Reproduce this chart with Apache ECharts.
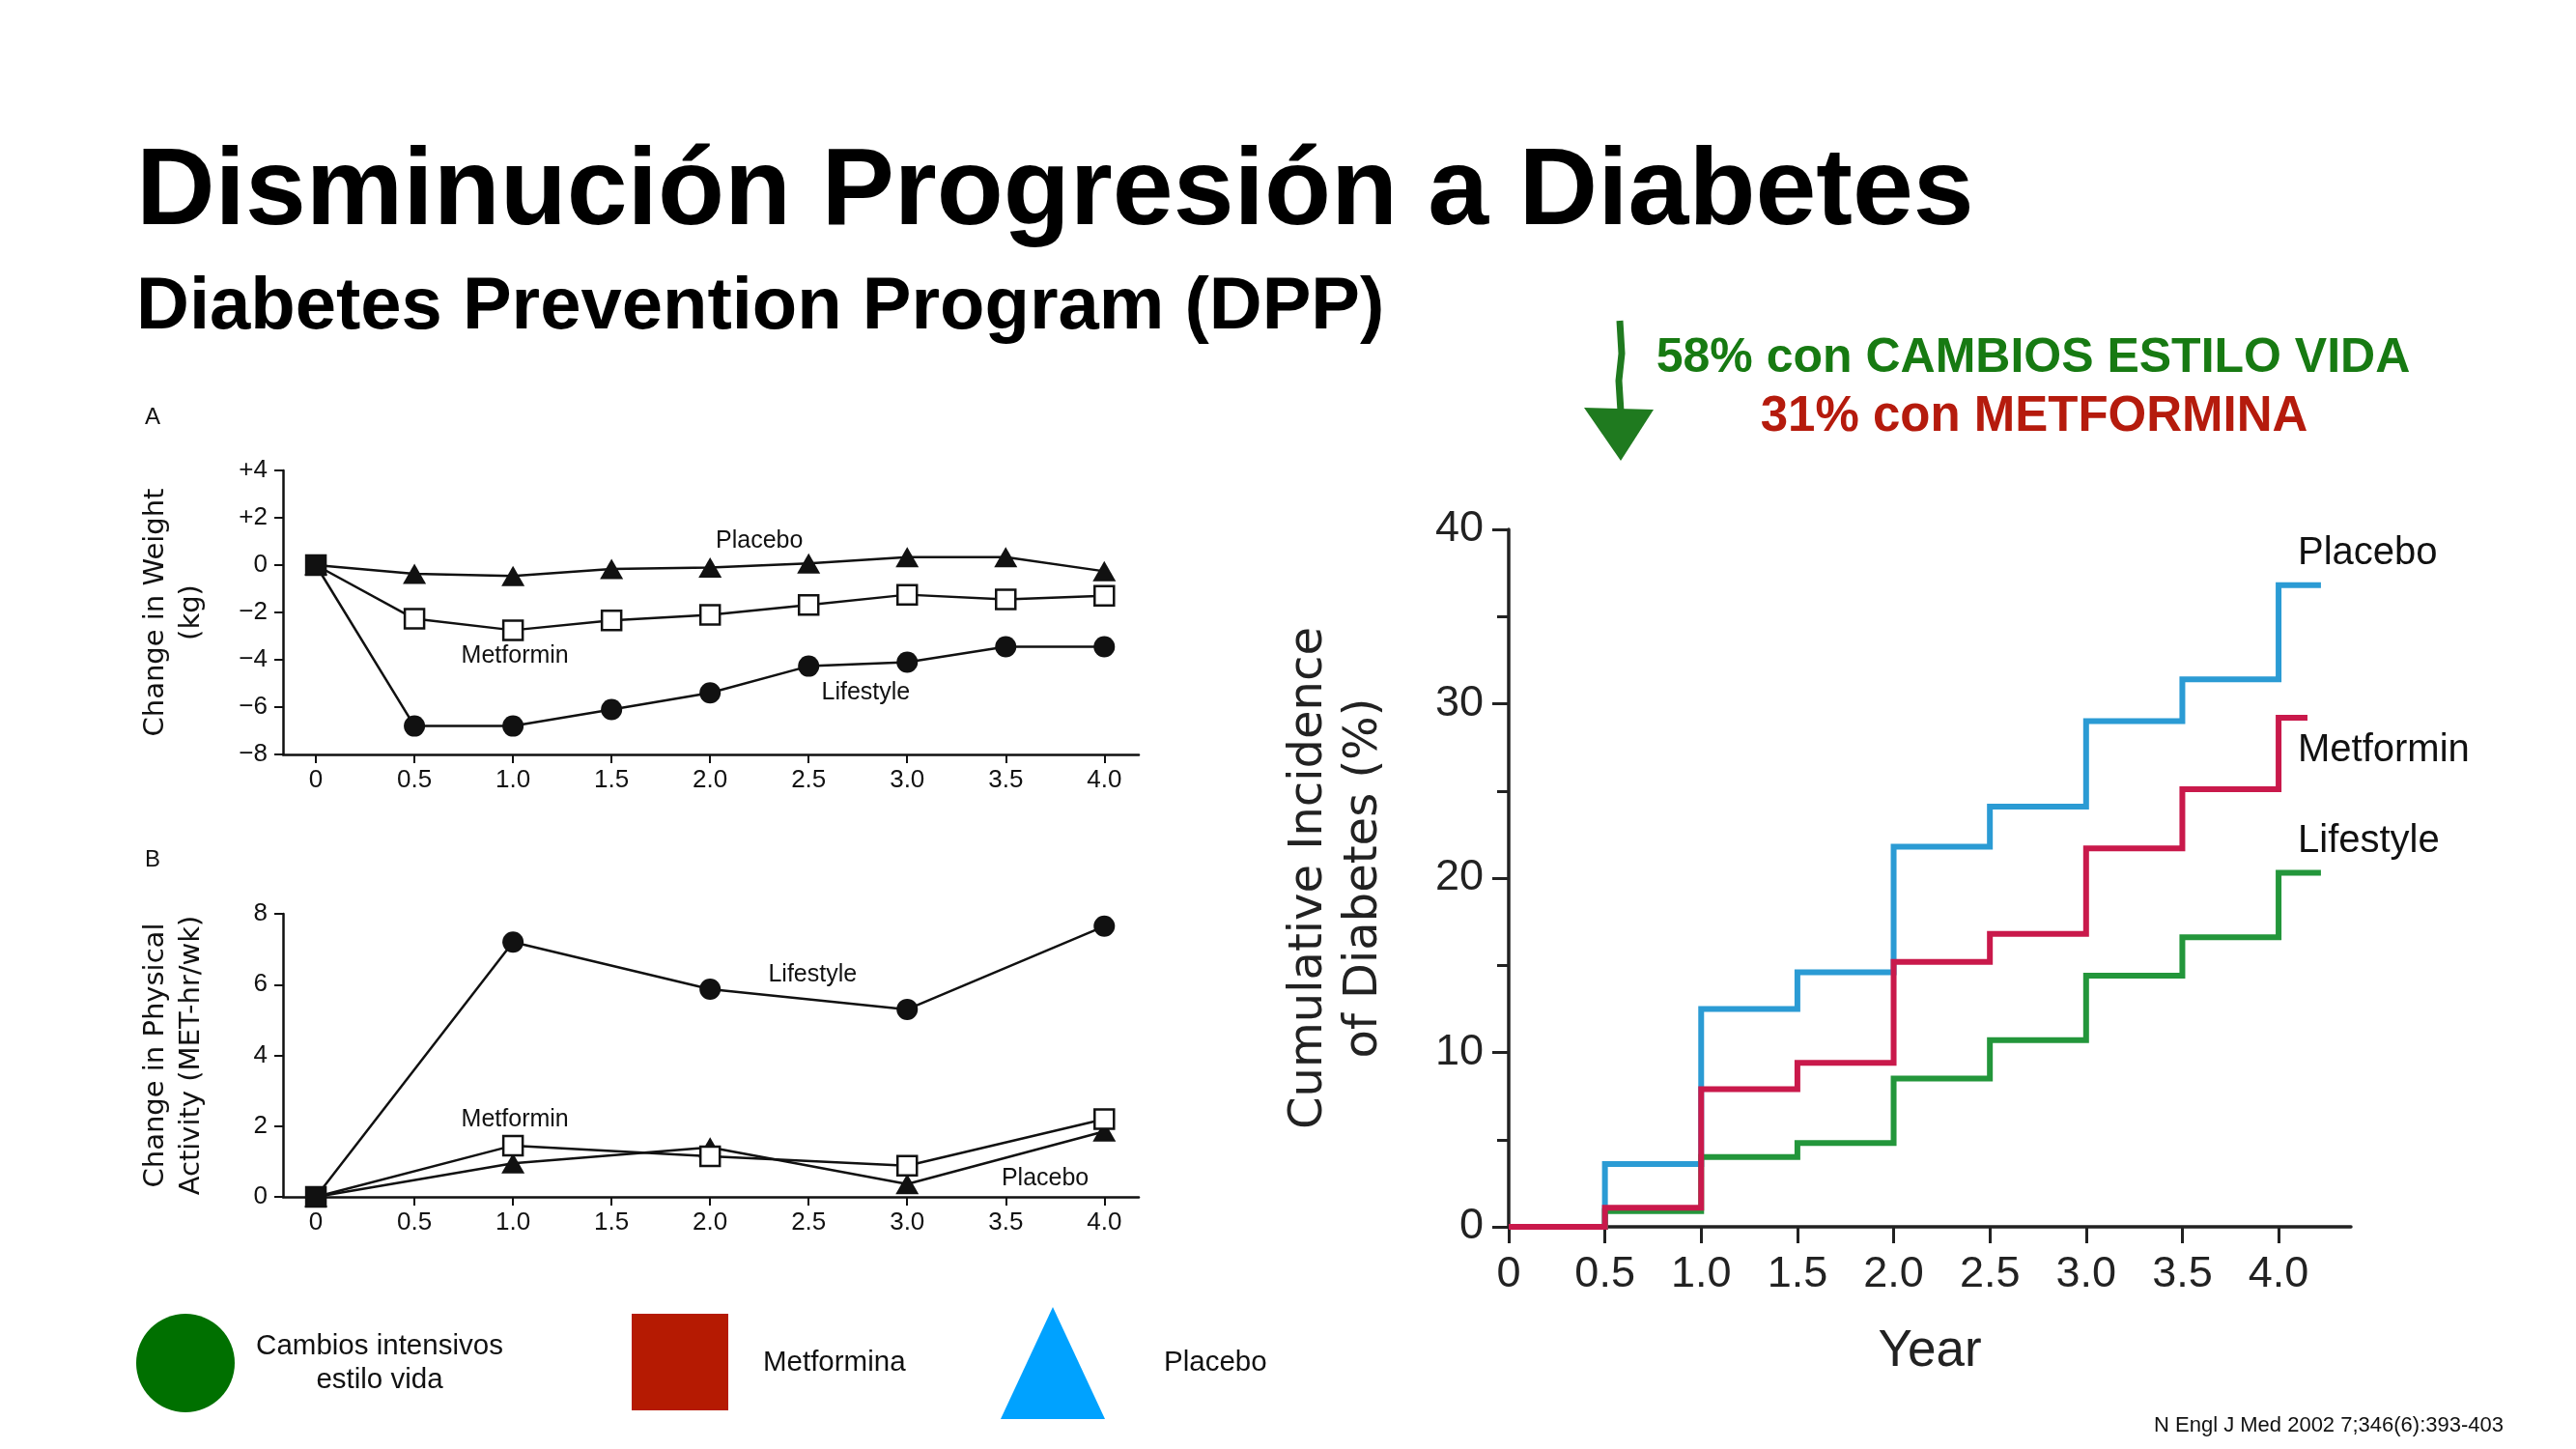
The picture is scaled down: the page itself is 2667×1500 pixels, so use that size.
<!DOCTYPE html>
<html>
<head>
<meta charset="utf-8">
<script src="https://cdn.jsdelivr.net/npm/echarts@6/dist/echarts.min.js"></script>
<style>
html,body{margin:0;padding:0;background:#fff;}
#c{width:2667px;height:1500px;}
</style>
</head>
<body>
<div id="c"></div>
<script>
// ---- Panel A: change in weight (kg)
const yearsA = [0, 0.5, 1.0, 1.5, 2.0, 2.5, 3.0, 3.5, 4.0];
const weightLifestyle = [0, -6.8, -6.8, -6.1, -5.4, -4.27, -4.1, -3.45, -3.45];
const weightMetformin = [0, -2.27, -2.75, -2.34, -2.1, -1.68, -1.25, -1.45, -1.3];
const weightPlacebo = [0, -0.37, -0.46, -0.16, -0.1, 0.07, 0.34, 0.34, -0.26];
const weightTicks = [-8, -6, -4, -2, 0, 2, 4];

// ---- Panel B: change in physical activity (MET-hr/wk)
const yearsB = [0, 1, 2, 3, 4];
const actLifestyle = [0, 7.2, 5.87, 5.3, 7.65];
const actMetformin = [0, 1.45, 1.15, 0.88, 2.2];
const actPlacebo = [0, 0.95, 1.4, 0.36, 1.85];
const activityTicks = [0, 2, 4, 6, 8];

const yearTicksLeft = [0, 0.5, 1.0, 1.5, 2.0, 2.5, 3.0, 3.5, 4.0];

// ---- Right panel: cumulative incidence of diabetes (%)
const stepYears = [0, 0.5, 1.0, 1.5, 2.0, 2.5, 3.0, 3.5, 4.0];
const incPlacebo = [0, 3.6, 12.5, 14.6, 21.8, 24.1, 29.0, 31.4, 36.8];
const incMetformin = [0, 1.1, 7.9, 9.4, 15.2, 16.8, 21.7, 25.1, 29.2];
const incLifestyle = [0, 0.9, 4.0, 4.8, 8.5, 10.7, 14.4, 16.6, 20.3];
const endYear = { Placebo: 4.22, Metformin: 4.15, Lifestyle: 4.22 };
const yearTicksRight = [0, 0.5, 1.0, 1.5, 2.0, 2.5, 3.0, 3.5, 4.0];

// ---- In-plot series annotations (data coordinates)
const notesA = [['Placebo', 2.25, 1.03], ['Metformin', 1.01, -3.86], ['Lifestyle', 2.79, -5.38]];
const notesB = [['Lifestyle', 2.52, 6.28], ['Metformin', 1.01, 2.19], ['Placebo', 3.7, 0.51]];
const notesR = [['Placebo', 4.1, 38.6], ['Metformin', 4.1, 27.3], ['Lifestyle', 4.1, 22.1]];

const FONT = '"Liberation Sans", Arial, Helvetica, sans-serif';
const WIDE = '"DejaVu Sans", Verdana, sans-serif';

function pairs(xs, ys) { return xs.map((x, i) => [x, ys[i]]); }
function stepData(ys, end) { const d = pairs(stepYears, ys); d.push([end, ys[ys.length - 1]]); return d; }
function fmtYear(v) { return v === 0 ? '0' : v.toFixed(1); }
function fmtSigned(v) { return v > 0 ? '+' + v : (v < 0 ? '\u2212' + Math.abs(v) : '0'); }

function noteMark(notes, pos, size) {
  return {
    silent: true,
    symbol: 'circle', symbolSize: 0,
    label: { show: true, position: pos, distance: 0, color: '#111', fontFamily: FONT, fontSize: size,
      formatter: p => p.name },
    data: notes.map(n => ({ name: n[0], coord: [n[1], n[2]] }))
  };
}

const leftAxisLine = { show: true, onZero: false, lineStyle: { color: '#111', width: 2.5 } };
const leftTick = { show: true, length: 9, lineStyle: { color: '#111', width: 2 } };
const leftLabel = { color: '#111', fontFamily: FONT, fontSize: 26 };

function leftX(gridIndex) {
  return {
    type: 'value', gridIndex, min: -0.167, max: 4.175,
    axisLine: leftAxisLine, splitLine: { show: false },
    axisTick: Object.assign({ customValues: yearTicksLeft }, leftTick),
    axisLabel: Object.assign({ customValues: yearTicksLeft, margin: 14, formatter: fmtYear }, leftLabel)
  };
}
function leftY(gridIndex, min, max, ticks, name, fmt) {
  return {
    type: 'value', gridIndex, min, max,
    name, nameLocation: 'middle', nameRotate: 90, nameGap: 76, nameMoveOverlap: false,
    nameTextStyle: { color: '#111', fontFamily: WIDE, fontSize: 29, lineHeight: 37 },
    axisLine: leftAxisLine, splitLine: { show: false },
    axisTick: Object.assign({ customValues: ticks }, leftTick),
    axisLabel: Object.assign({ customValues: ticks, margin: 16, formatter: fmt }, leftLabel)
  };
}

function blackSeries(name, xi, yi, xs, ys, symbol, size, filled, notes) {
  const data = pairs(xs, ys).map((p, i) =>
    (!filled && i === 0) ? { value: p, itemStyle: { color: '#111' } } : p);
  const s = {
    name, type: 'line', xAxisIndex: xi, yAxisIndex: yi,
    data, symbol, symbolSize: size, showSymbol: true,
    lineStyle: { color: '#111', width: 2.5 },
    itemStyle: filled ? { color: '#111', borderColor: '#111', borderWidth: 0 }
                      : { color: '#fff', borderColor: '#111', borderWidth: 2.5 },
    z: filled ? 3 : 4, animation: false
  };
  if (notes) s.markPoint = noteMark(notes, 'inside', 25);
  return s;
}

function stepSeries(name, ys, color, z) {
  const note = notesR.filter(n => n[0] === name);
  return {
    name, type: 'line', xAxisIndex: 2, yAxisIndex: 2, step: 'end',
    data: stepData(ys, endYear[name]), showSymbol: false, symbol: 'none',
    lineStyle: { color, width: 6, cap: 'butt', join: 'miter' }, z, animation: false,
    markPoint: noteMark(note, 'right', 40)
  };
}

const chart = echarts.init(document.getElementById('c'), null, { renderer: 'canvas' });

const option = {
  backgroundColor: '#fff',
  animation: false,
  grid: [
    { left: 293, top: 487, width: 886, height: 294 },
    { left: 293, top: 946, width: 886, height: 293 },
    { left: 1562, top: 548, width: 872, height: 722 }
  ],
  xAxis: [
    leftX(0),
    leftX(1),
    {
      type: 'value', gridIndex: 2, min: 0, max: 4.376,
      name: 'Year', nameLocation: 'middle', nameGap: 103, nameMoveOverlap: false,
      nameTextStyle: { color: '#222', fontFamily: FONT, fontSize: 53 },
      axisLine: { show: true, onZero: false, lineStyle: { color: '#222', width: 3.5 } },
      splitLine: { show: false },
      axisTick: { show: true, customValues: yearTicksRight, length: 17, lineStyle: { color: '#222', width: 3 } },
      axisLabel: { customValues: yearTicksRight, formatter: fmtYear, margin: 27, color: '#222', fontFamily: FONT, fontSize: 45 }
    }
  ],
  yAxis: [
    leftY(0, -8, 4, weightTicks, 'Change in Weight\n(kg)', fmtSigned),
    leftY(1, 0, 8, activityTicks, 'Change in Physical\nActivity (MET-hr/wk)', v => String(v)),
    {
      type: 'value', gridIndex: 2, min: 0, max: 40, interval: 10,
      name: 'Cumulative Incidence\nof Diabetes (%)', nameLocation: 'middle', nameRotate: 90, nameGap: 121, nameMoveOverlap: false,
      nameTextStyle: { color: '#222', fontFamily: WIDE, fontSize: 48, lineHeight: 57 },
      axisLine: { show: true, onZero: false, lineStyle: { color: '#222', width: 3.5 } },
      splitLine: { show: false },
      axisTick: { show: true, length: 17, lineStyle: { color: '#222', width: 3 } },
      minorTick: { show: true, splitNumber: 2, length: 12, lineStyle: { color: '#222', width: 3 } },
      axisLabel: { margin: 26, color: '#222', fontFamily: FONT, fontSize: 45 }
    }
  ],
  series: [
    blackSeries('Placebo', 0, 0, yearsA, weightPlacebo, 'triangle', [24, 21], true, [notesA[0]]),
    blackSeries('Metformin', 0, 0, yearsA, weightMetformin, 'rect', 20, false, [notesA[1]]),
    blackSeries('Lifestyle', 0, 0, yearsA, weightLifestyle, 'circle', 22, true, [notesA[2]]),
    blackSeries('Lifestyle', 1, 1, yearsB, actLifestyle, 'circle', 22, true, [notesB[0]]),
    blackSeries('Metformin', 1, 1, yearsB, actMetformin, 'rect', 20, false, [notesB[1]]),
    blackSeries('Placebo', 1, 1, yearsB, actPlacebo, 'triangle', [24, 21], true, [notesB[2]]),
    stepSeries('Placebo', incPlacebo, '#2b9bd4', 5),
    stepSeries('Lifestyle', incLifestyle, '#23963b', 6),
    stepSeries('Metformin', incMetformin, '#c9194b', 7)
  ],
  graphic: [
    { type: 'text', left: 141, top: 144, style: { text: 'Disminución Progresión a Diabetes', fill: '#000',
      font: 'bold 113px ' + FONT } },
    { type: 'text', left: 141, top: 281, style: { text: 'Diabetes Prevention Program (DPP)', fill: '#000',
      font: 'bold 76px ' + FONT } },
    { type: 'text', x: 2105, y: 371, style: { text: '58% con CAMBIOS ESTILO VIDA', fill: '#177a12',
      font: 'bold 50px ' + FONT, align: 'center', verticalAlign: 'middle' } },
    { type: 'text', x: 2106, y: 432, style: { text: '31% con METFORMINA', fill: '#b51b0d',
      font: 'bold 51px ' + FONT, align: 'center', verticalAlign: 'middle' } },
    // hand-drawn style arrow
    { type: 'polyline', shape: { points: [[1677, 332], [1679, 366], [1676, 394], [1678, 426]] },
      style: { stroke: '#1f7a1f', lineWidth: 7, fill: null } },
    { type: 'polygon', shape: { points: [[1640, 422], [1712, 424], [1678, 477]] },
      style: { fill: '#1f7a1f' } },
    { type: 'text', x: 158, y: 432, style: { text: 'A', fill: '#111', font: '24px ' + FONT, align: 'center', verticalAlign: 'middle' } },
    { type: 'text', x: 158, y: 890, style: { text: 'B', fill: '#111', font: '24px ' + FONT, align: 'center', verticalAlign: 'middle' } },
    // bottom key
    { type: 'circle', shape: { cx: 192, cy: 1411, r: 51 }, style: { fill: '#007000' } },
    { type: 'text', x: 393, y: 1411, style: { text: 'Cambios intensivos\nestilo vida', fill: '#111',
      font: '29.5px ' + FONT, lineHeight: 35, align: 'center', verticalAlign: 'middle' } },
    { type: 'rect', shape: { x: 654, y: 1360, width: 100, height: 100 }, style: { fill: '#b51a02' } },
    { type: 'text', x: 790, y: 1411, style: { text: 'Metformina', fill: '#111', font: '29.5px ' + FONT, verticalAlign: 'middle' } },
    { type: 'polygon', shape: { points: [[1090, 1353], [1144, 1469], [1036, 1469]] }, style: { fill: '#00a2ff' } },
    { type: 'text', x: 1205, y: 1411, style: { text: 'Placebo', fill: '#111', font: '29.5px ' + FONT, verticalAlign: 'middle' } },
    { type: 'text', x: 2592, y: 1476, style: { text: 'N Engl J Med 2002 7;346(6):393-403', fill: '#111',
      font: '22px ' + FONT, align: 'right', verticalAlign: 'middle' } }
  ]
};
chart.setOption(option);
</script>
</body>
</html>
